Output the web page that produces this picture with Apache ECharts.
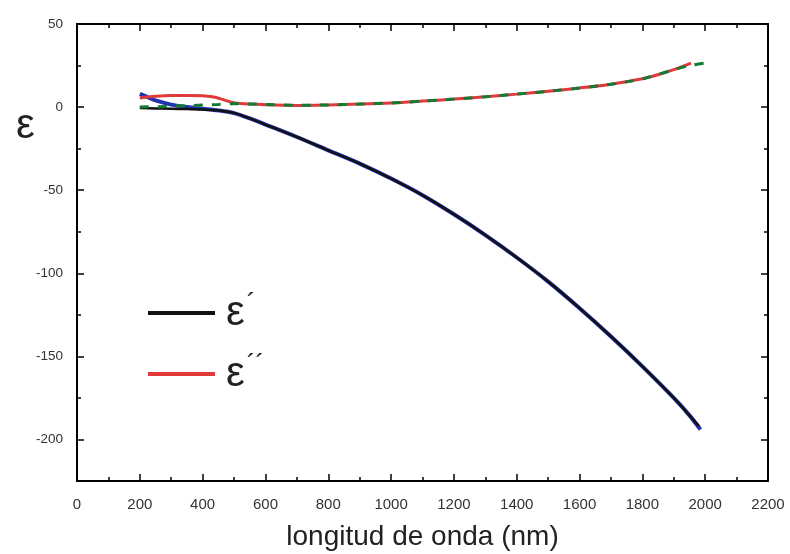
<!DOCTYPE html>
<html>
<head>
<meta charset="utf-8">
<script src="https://cdn.jsdelivr.net/npm/echarts@6/dist/echarts.min.js"></script>
<style>html,body{margin:0;padding:0;background:#fff}#c{width:790px;height:554px}</style>
</head>
<body>
<div id="c"></div>
<script>
// ε' measured (black)
const wlReal = [200,250,300,350,400,450,500,550,600,700,800,900,1000,1100,1200,1300,1400,1500,1600,1700,1800,1900,1950,1980];
const epsReal = [-0.5,-0.8,-1,-1.2,-1.5,-2,-3.5,-6.8,-10.5,-18,-26,-34,-43,-53,-64.5,-77,-90.5,-105,-121,-138,-156,-175,-185.5,-192];
// ε' fit (blue)
const wlRealFit = [200,225,250,300,350,400,450,500,550,600,700,800,900,1000,1100,1200,1300,1400,1500,1600,1700,1800,1900,1950,1985];
const epsRealFit = [8,6,4,1.5,0,-1,-2,-3.6,-6.8,-10.5,-18,-26,-34,-43,-53,-64.5,-77,-90.5,-105,-121,-138,-156,-175,-185.5,-194];
// ε'' measured (red)
const wlImag = [200,250,300,350,400,430,460,490,520,560,600,700,800,900,1000,1100,1200,1300,1400,1500,1600,1700,1800,1850,1900,1955];
const epsImag = [5.5,6.5,7,7,6.8,6.2,4.8,3,2.2,1.8,1.4,1,1.3,1.8,2.5,3.6,4.8,6.2,7.8,9.5,11.5,13.8,17,19.5,22.5,26.5];
// ε'' fit (green dashed)
const wlImagFit = [200,300,400,450,500,550,600,700,800,900,1000,1100,1200,1300,1400,1500,1600,1700,1800,1900,1950,2010];
const epsImagFit = [0,0.5,1.2,1.6,2,1.9,1.5,1.1,1.3,1.8,2.5,3.6,4.8,6.2,7.8,9.5,11.5,13.8,17,22.5,25,26.8];

const yMajor = [-200,-150,-100,-50,0,50];
const yMinor = [-175,-125,-75,-25,25];
const legendNames = ['ε´','ε´´'];

const pairs = (xs, ys) => xs.map((x, i) => [x, ys[i]]);
const font = 'Liberation Sans, Arial, sans-serif';

function yAx(pos, ticks, len, showLine, showLabel) {
  return {
    type: 'value', position: pos, min: -225, max: 50, interval: 25,
    axisLine: {show: showLine, lineStyle: {color: '#000', width: 2}},
    axisTick: {show: true, inside: true, length: len, customValues: ticks, lineStyle: {color: '#000', width: 1.5}},
    axisLabel: {show: showLabel, customValues: yMajor, margin: 14, color: '#333', fontSize: 13.5, fontFamily: font},
    splitLine: {show: false}
  };
}
function xAx(pos, showLabel) {
  return {
    type: 'value', position: pos, min: 0, max: 2200, interval: 200,
    axisLine: {show: true, onZero: false, lineStyle: {color: '#000', width: 2}},
    axisTick: {show: true, inside: true, length: 7, lineStyle: {color: '#000', width: 1.5}},
    minorTick: {show: true, splitNumber: 2, length: 4, lineStyle: {color: '#000', width: 1.5}},
    axisLabel: {show: showLabel, margin: 16, color: '#333', fontSize: 15, fontFamily: font, formatter: v => String(v)},
    splitLine: {show: false},
    name: showLabel ? 'longitud de onda (nm)' : '',
    nameLocation: 'middle', nameGap: 42,
    nameTextStyle: {fontSize: 28, color: '#222', fontFamily: font}
  };
}

const chart = echarts.init(document.getElementById('c'), null, {renderer: 'canvas'});
chart.setOption({
  animation: false,
  backgroundColor: '#fff',
  title: {text: 'ε', left: 11, top: 100, textStyle: {fontSize: 42, fontWeight: 'normal', color: '#222', fontFamily: font}},
  grid: {left: 77, right: 22, top: 24, bottom: 73, containLabel: false, outerBoundsMode: 'none'},
  xAxis: [xAx('bottom', true), xAx('top', false)],
  yAxis: [
    yAx('left', yMajor, 7, true, true),
    yAx('left', yMinor, 4, false, false),
    yAx('right', yMajor, 7, true, false),
    yAx('right', yMinor, 4, false, false)
  ],
  legend: {
    data: legendNames, orient: 'vertical', left: 143, top: 286,
    itemWidth: 67, itemHeight: 4, itemGap: 7, icon: 'rect',
    formatter: n => '{e|ε}{p|' + n.slice(1) + '}',
    textStyle: {
      padding: [0, 0, 0, 6],
      rich: {
        e: {fontSize: 42, color: '#222', fontFamily: font, lineHeight: 44},
        p: {fontSize: 26, color: '#222', fontFamily: font, verticalAlign: 'top', lineHeight: 44, padding: [0, 0, 28, 2]}
      }
    }
  },
  series: [
    {name: 'fit1', type: 'line', data: pairs(wlRealFit, epsRealFit), showSymbol: false, smooth: 0.3,
     lineStyle: {color: '#2233b0', width: 4}, itemStyle: {color: '#2233b0'}, z: 2},
    {name: legendNames[0], type: 'line', data: pairs(wlReal, epsReal), showSymbol: false, smooth: 0.3,
     lineStyle: {color: '#111', width: 2.5}, itemStyle: {color: '#111'}, z: 3},
    {name: legendNames[1], type: 'line', data: pairs(wlImag, epsImag), showSymbol: false, smooth: 0.3,
     lineStyle: {color: '#e0393a', width: 3}, itemStyle: {color: '#e0393a'}, z: 4},
    {name: 'fit2', type: 'line', data: pairs(wlImagFit, epsImagFit), showSymbol: false, smooth: 0.3,
     lineStyle: {color: '#137a35', width: 3, type: [9, 9]}, itemStyle: {color: '#137a35'}, z: 5}
  ]
});
</script>
</body>
</html>
